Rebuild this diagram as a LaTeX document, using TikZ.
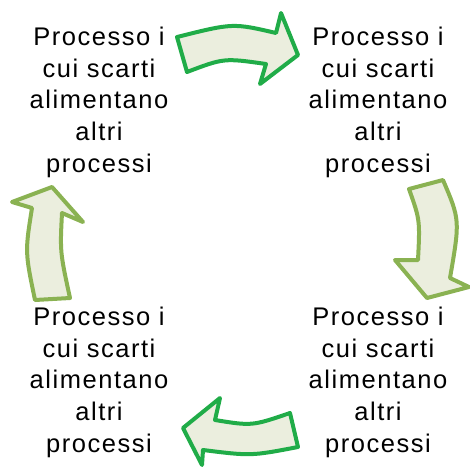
\documentclass[tikz,border=0pt]{standalone}
\usepackage{fontspec}
\setmainfont{Liberation Sans}[LetterSpace=6]
\begin{document}
\begin{tikzpicture}[x=1pt,y=-1pt,
  label text/.style={align=center,inner sep=0pt,anchor=north,
    font=\fontsize{25.5}{31.8}\selectfont},
  greenarrow/.style={draw=arrowgreen,fill=arrowfill,line width=4pt,line join=round},
  olivearrow/.style={draw=arrowolive,fill=arrowfill,line width=4pt,line join=round}]
\definecolor{arrowgreen}{RGB}{32,172,72}
\definecolor{arrowolive}{RGB}{138,178,82}
\definecolor{arrowfill}{RGB}{235,238,222}
\useasboundingbox (0,0) rectangle (470,469);

% the four process labels
\node[label text] (tl) at (99,26.7) {Processo i\\cui scarti\\alimentano\\altri\\processi};
\node[label text] (tr) at (378,26.7) {Processo i\\cui scarti\\alimentano\\altri\\processi};
\node[label text] (br) at (378,306.7) {Processo i\\cui scarti\\alimentano\\altri\\processi};
\node[label text] (bl) at (99,306.7) {Processo i\\cui scarti\\alimentano\\altri\\processi};

% curved block arrows between the processes
% top: left to right
\draw[greenarrow] (177,37) .. controls (233,23) .. (276,33)
  -- (281,13) -- (298,55) -- (260,84) -- (266,64)
  .. controls (224,58) .. (187,72) -- cycle;
% right: downwards
\draw[olivearrow] (443,180) .. controls (460,220) .. (450,278)
  -- (469,287) -- (427,298) -- (395,260) -- (418,260)
  .. controls (420,220) .. (409,189) -- cycle;
% bottom: right to left
\draw[greenarrow] (298,447) .. controls (251,456) .. (203,450)
  -- (202,465) -- (183,428) -- (220,398) -- (215,420)
  .. controls (252,426) .. (290,413) -- cycle;
% left: upwards
\draw[olivearrow] (35,300) .. controls (25,252) .. (32,208)
  -- (12,202) -- (52,187) -- (83,222) -- (62,213)
  .. controls (60,252) .. (70,298) -- cycle;
\end{tikzpicture}
\end{document}
